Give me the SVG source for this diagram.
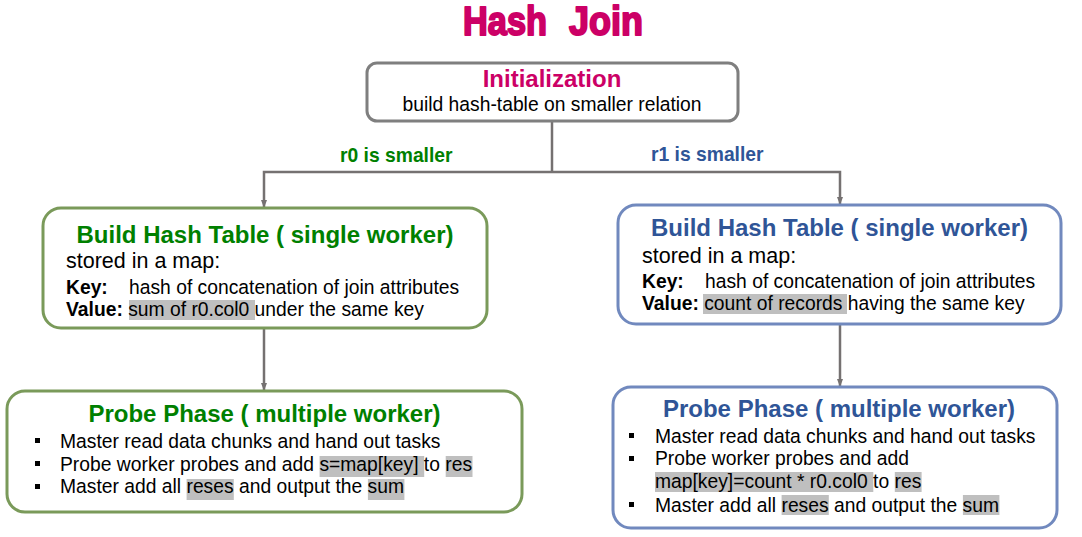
<svg xmlns="http://www.w3.org/2000/svg" width="1082" height="537" viewBox="0 0 1082 537">
<style>
text{font-family:"Liberation Sans",Arial,sans-serif;fill:#000}
.t{font-size:24px;font-weight:bold;text-anchor:middle}
.b{font-size:19.3px}
.s{font-size:21.5px}
.bd{font-weight:bold}
.g{fill:#008000}
.bl{fill:#2F5597}
.m{fill:#CC0066}
.ht{stroke:#CC0066;stroke-width:2;stroke-linejoin:round}
.hl{fill:#BFBFBF}
.box{fill:#fff;stroke-width:3}
.gb{stroke:#7A9A5A}
.bb{stroke:#7189BE}
.conn{fill:none;stroke:#757171;stroke-width:2.5}
.bu{fill:#000}
</style>
<defs>
<marker id="ah" markerWidth="8" markerHeight="6" refX="7" refY="3" orient="auto" markerUnits="userSpaceOnUse">
<path d="M0,0 L8,3 L0,6 Z" fill="#757171"/>
</marker>
</defs>
<rect width="1082" height="537" fill="#fff"/>
<g id="title">
<text x="463" y="35" class="m bd ht" font-size="40" textLength="84" lengthAdjust="spacingAndGlyphs">Hash</text>
<text x="569" y="35" class="m bd ht" font-size="40" textLength="74" lengthAdjust="spacingAndGlyphs">Join</text>
</g>
<g id="connectors">
<path class="conn" d="M552,121 V172"/>
<path class="conn" d="M552,172 H264 V207" marker-end="url(#ah)"/>
<path class="conn" d="M552,172 H840 V204" marker-end="url(#ah)"/>
<path class="conn" d="M264,328 V390" marker-end="url(#ah)"/>
<path class="conn" d="M840,324 V386" marker-end="url(#ah)"/>
<text x="340" y="162" class="b bd g">r0 is smaller</text>
<text x="651" y="161" class="b bd bl">r1 is smaller</text>
</g>
<g id="init">
<rect x="367" y="63" width="371" height="58" rx="10" class="box" stroke="#7F7F7F"/>
<text x="552" y="87" class="t m">Initialization</text>
<text x="552" y="111" class="b" text-anchor="middle">build hash-table on smaller relation</text>
</g>
<g id="build-left">
<rect x="43" y="208" width="444" height="120" rx="18" class="box gb"/>
<text x="265" y="243" class="t g">Build Hash Table ( single worker)</text>
<text x="66" y="268" class="s">stored in a map:</text>
<text x="66" y="294" class="b bd">Key:</text>
<text x="129" y="294" class="b">hash of concatenation of join attributes</text>
<rect x="129" y="300" width="126" height="20" class="hl"/>
<text x="66" y="316" class="b"><tspan class="bd">Value:</tspan> sum of r0.col0 under the same key</text>
</g>
<g id="build-right">
<rect x="618" y="205" width="443" height="119" rx="18" class="box bb"/>
<text x="839.5" y="236" class="t bl">Build Hash Table ( single worker)</text>
<text x="642" y="263" class="s">stored in a map:</text>
<text x="642" y="288" class="b bd">Key:</text>
<text x="705" y="288" class="b">hash of concatenation of join attributes</text>
<rect x="703" y="294" width="144" height="20" class="hl"/>
<text x="642" y="310" class="b"><tspan class="bd">Value:</tspan> count of records having the same key</text>
</g>
<g id="probe-left">
<rect x="7" y="391" width="515" height="121" rx="18" class="box gb"/>
<text x="264.5" y="422" class="t g">Probe Phase ( multiple worker)</text>
<rect x="35" y="438" width="5" height="5" class="bu"/>
<rect x="35" y="461" width="5" height="5" class="bu"/>
<rect x="35" y="484" width="5" height="5" class="bu"/>
<rect x="319.6" y="456" width="104.6" height="21" class="hl"/>
<rect x="445.7" y="456" width="26.8" height="21" class="hl"/>
<rect x="186.6" y="479" width="47.2" height="21" class="hl"/>
<rect x="367.9" y="479" width="36.5" height="21" class="hl"/>
<text x="60" y="447.7" class="b">Master read data chunks and hand out tasks</text>
<text x="60" y="470.5" class="b">Probe worker probes and add s=map[key] to res</text>
<text x="60" y="493.3" class="b">Master add all reses and output the sum</text>
</g>
<g id="probe-right">
<rect x="613" y="387" width="444" height="141" rx="18" class="box bb"/>
<text x="839" y="417" class="t bl">Probe Phase ( multiple worker)</text>
<rect x="629" y="433" width="5" height="5" class="bu"/>
<rect x="629" y="456" width="5" height="5" class="bu"/>
<rect x="629" y="502" width="5" height="5" class="bu"/>
<rect x="655" y="472" width="218.3" height="20" class="hl"/>
<rect x="894.8" y="472" width="26.8" height="20" class="hl"/>
<rect x="781.6" y="495" width="47.2" height="20" class="hl"/>
<rect x="962.9" y="495" width="36.5" height="20" class="hl"/>
<text x="655" y="442.7" class="b">Master read data chunks and hand out tasks</text>
<text x="655" y="465" class="b">Probe worker probes and add</text>
<text x="655" y="488" class="b">map[key]=count * r0.col0 to res</text>
<text x="655" y="511.7" class="b">Master add all reses and output the sum</text>
</g>
</svg>
